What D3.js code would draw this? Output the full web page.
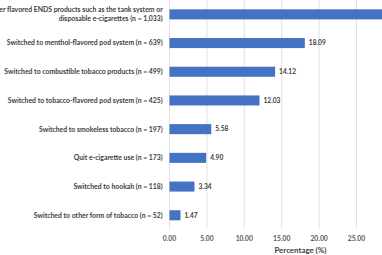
<!DOCTYPE html>
<html><head><meta charset="utf-8">
<script src="https://cdn.jsdelivr.net/npm/d3@7"></script>
<style>html,body{margin:0;padding:0;background:#fff;overflow:hidden;}svg{display:block;}</style>
</head><body>
<svg id="c" width="382" height="255"></svg>
<script>
const categories = [
  ["Switched to other flavored ENDS products such as the tank system or", "disposable e-cigarettes (n = 1,033)"],
  ["Switched to menthol-flavored pod system (n = 639)"],
  ["Switched to combustible tobacco products (n = 499)"],
  ["Switched to tobacco-flavored pod system (n = 425)"],
  ["Switched to smokeless tobacco (n = 197)"],
  ["Quit e-cigarette use (n = 173)"],
  ["Switched to hookah (n = 118)"],
  ["Switched to other form of tobacco (n = 52)"]
];
const values = [29.25, 18.09, 14.12, 12.03, 5.58, 4.90, 3.34, 1.47];
const ticks = [0, 5, 10, 15, 20, 25, 30, 35];
const axisTitle = "Percentage (%)";

const W = 382;
const svg = d3.select("#c");
const font = "Lato, 'Open Sans', sans-serif";

// find font size so that a sample string has the target width
function fitSize(sample, target) {
  const t = svg.append("text").attr("font-family", font).attr("font-weight", "bold")
    .attr("font-size", 10).text(sample);
  const w = t.node().getComputedTextLength();
  t.remove();
  return 10 * target / w;
}
const catSize = fitSize("Switched to menthol-flavored pod system (n = 639)", 156);
const valSize = fitSize("18.09", 17);
const tickSize = fitSize("25.00", 17.3);
const titleSize = fitSize(axisTitle, 52);

const x = d3.scaleLinear().domain([0, 35]).range([169.5, 431.3]);
const y = d3.scaleBand().domain(d3.range(values.length)).range([0, 229.6]).paddingInner(0.65).paddingOuter(0.325);

// gridlines
svg.append("g").selectAll("line").data(ticks).join("line")
  .attr("x1", d => x(d)).attr("x2", d => x(d))
  .attr("y1", 0).attr("y2", 228.5)
  .attr("stroke", "#d9d9d9").attr("stroke-width", 0.8);

// bars
svg.append("g").selectAll("rect").data(values).join("rect")
  .attr("x", x(0)).attr("y", (d, i) => y(i))
  .attr("width", d => x(d) - x(0)).attr("height", y.bandwidth())
  .attr("fill", "#4472c4");

// value labels (only those that fall inside the cropped view)
svg.append("g").selectAll("text").data(values.filter(d => x(d) + 4 < W)).join("text")
  .attr("x", d => x(d) + 4).attr("y", (d, i) => y(values.indexOf(d)) + y.bandwidth() / 2)
  .attr("dy", "0.35em")
  .attr("font-family", font).attr("font-weight", "bold").attr("font-size", valSize)
  .attr("fill", "#404040")
  .text(d => d.toFixed(2));

// category labels
const cg = svg.append("g");
categories.forEach((lines, i) => {
  const cy = y(i) + y.bandwidth() / 2;
  const n = lines.length;
  lines.forEach((ln, j) => {
    cg.append("text")
      .attr("x", 162.7).attr("y", cy + (j - (n - 1) / 2) * 9)
      .attr("dy", "0.35em").attr("text-anchor", "end")
      .attr("font-family", font).attr("font-weight", "bold").attr("font-size", catSize)
      .attr("fill", "#404040").text(ln);
  });
});

// tick labels (only those inside the cropped view)
svg.append("g").selectAll("text").data(ticks.filter(d => x(d) + 9 < W)).join("text")
  .attr("x", d => x(d)).attr("y", 239).attr("dy", "0.35em")
  .attr("text-anchor", "middle")
  .attr("font-family", font).attr("font-weight", "bold").attr("font-size", tickSize)
  .attr("fill", "#595959").text(d => d.toFixed(2));

// axis title
svg.append("text").attr("x", (x(0) + x(35)) / 2).attr("y", 250.5).attr("dy", "0.35em")
  .attr("text-anchor", "middle")
  .attr("font-family", font).attr("font-weight", "bold").attr("font-size", titleSize)
  .attr("fill", "#404040").text(axisTitle);
</script>
</body></html>
